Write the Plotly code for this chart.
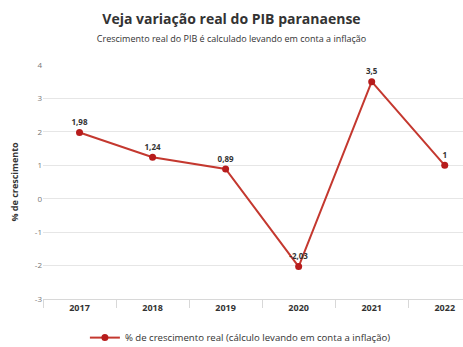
import plotly.graph_objects as go

anos = ["2017", "2018", "2019", "2020", "2021", "2022"]
crescimento = [1.98, 1.24, 0.89, -2.03, 3.5, 1]
rotulos = ["1,98", "1,24", "0,89", "-2,03", "3,5", "1"]
y_ticks = [-3, -2, -1, 0, 1, 2, 3, 4]
y_ticktext = ["-3", "-2", "-1", "0", "1", "2", "3", "4"]

FONT = "Open Sans"
fig = go.Figure()
fig.add_trace(go.Scatter(
    x=anos, y=crescimento, mode="lines+markers+text",
    name="% de crescimento real (cálculo levando em conta a inflação)",
    text=["<b>%s</b>" % t for t in rotulos], textposition="top center",
    textfont=dict(family=FONT, size=8, color="#333333"),
    line=dict(color="#c4382f", width=2),
    marker=dict(color="#b71c1c", size=7),
    cliponaxis=False,
))
fig.update_layout(
    width=463, height=347,
    margin=dict(l=43, r=0, t=65, b=48, autoexpand=False),
    paper_bgcolor="white", plot_bgcolor="white",
    font=dict(family=FONT, color="#333333"),
    title=dict(
        text="<b>Veja variação real do PIB paranaense</b><br><span style='font-size:9px;color:#333'>Crescimento real do PIB é calculado levando em conta a inflação</span>",
        x=0.5, xref="container", xanchor="center", y=0.93, yanchor="top",
        font=dict(family=FONT, size=14, color="#333333"),
    ),
    showlegend=True,
    legend=dict(orientation="h", x=0.47, xanchor="center", y=-0.165, yanchor="middle",
                itemwidth=30,
                font=dict(family=FONT, size=9.6, color="#333333"), bgcolor="rgba(0,0,0,0)"),
    xaxis=dict(
        type="category", range=[-0.5, 5.25], showgrid=False,
        showline=True, linecolor="#d8d8d8", linewidth=1,
        ticks="outside", tickson="boundaries", ticklen=8, tickcolor="#d8d8d8",
        tickfont=dict(family=FONT, size=9, color="#333333", weight="bold"),
    ),
    yaxis=dict(
        range=[-3, 4], tickvals=y_ticks, ticktext=y_ticktext, showgrid=True, gridcolor="#e6e6e6",
        zeroline=False, showline=False,
        tickfont=dict(family=FONT, size=8, color="#777777"),
        title=dict(text="<b>% de crescimento</b>", font=dict(family=FONT, size=9, color="#333333"), standoff=14),
    ),
)
fig.write_html("out.html")
